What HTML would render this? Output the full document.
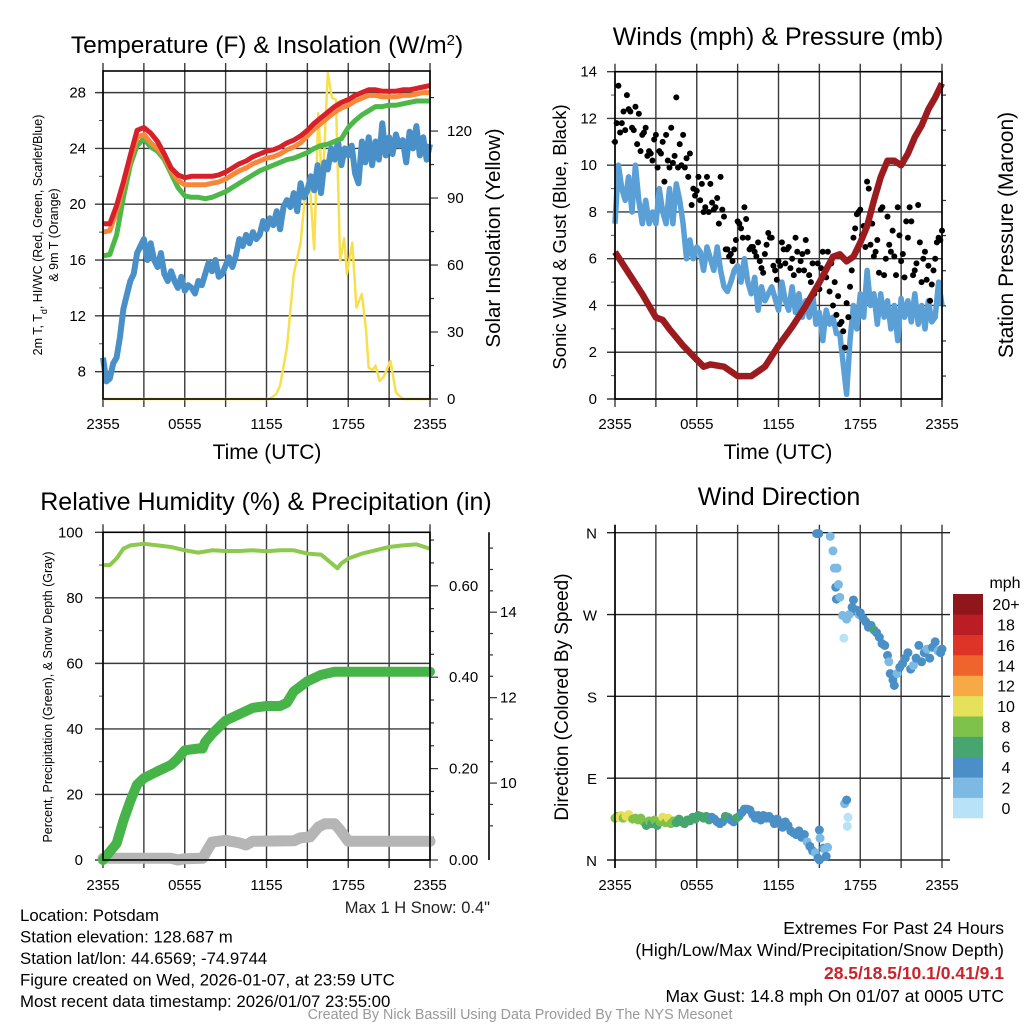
<!DOCTYPE html>
<html><head><meta charset="utf-8">
<style>
html,body{margin:0;padding:0;background:#fff;}
svg{display:block;font-family:"Liberation Sans",sans-serif;}
</style></head>
<body>
<svg id="fig" width="1024" height="1024" viewBox="0 0 1024 1024" xmlns="http://www.w3.org/2000/svg"></svg>
<script>
// ---------- DATA ----------
const hourLabels = ["2355","0555","1155","1755","2355"];
const tempRed = [18.6,18.6,19.9,21.6,23.5,25.3,25.5,25.1,24.5,23.6, 22.6,22.1,21.9,22.0,22.0,22.0,22.0,22.1,22.3,22.6, 22.9,23.1,23.4,23.6,23.8,23.9,24.1,24.4,24.6,24.9, 25.3,25.8,26.2,26.6,27.0,27.3,27.5,27.8,28.0,28.2, 28.2,28.1,28.1,28.1,28.2,28.2,28.3,28.4,28.5];
const tempOrange = [18.0,18.1,19.5,21.3,23.2,24.8,25.0,24.4,24.0,23.4, 22.4,21.7,21.4,21.4,21.4,21.4,21.5,21.6,21.8,22.1, 22.4,22.6,22.9,23.1,23.3,23.4,23.6,23.9,24.1,24.4, 24.9,25.4,25.8,26.2,26.6,26.9,27.1,27.4,27.6,27.8, 27.8,27.7,27.7,27.7,27.8,27.8,27.9,28.0,28.0];
const tempGreen = [16.3,16.4,17.8,20.5,22.8,24.2,24.7,24.1,23.8,23.2, 22.2,21.2,20.6,20.5,20.5,20.4,20.5,20.7,20.9,21.2, 21.5,21.8,22.1,22.4,22.6,22.8,23.0,23.2,23.3,23.5, 23.7,24.0,24.2,24.3,24.5,24.7,25.5,26.0,26.4,26.7, 27.0,27.0,27.1,27.1,27.2,27.3,27.4,27.4,27.4];
const tempBlue = [9.0,7.3,7.5,8.6,9.0,10.5,12.5,13.5,14.5,15.0, 16.5,17.0,17.5,16.0,17.2,16.0,15.5,16.5,15.0,14.5, 15.2,14.5,14.0,14.8,13.8,14.2,14.0,13.6,14.5,14.2, 15.0,15.8,15.2,16.0,14.8,15.0,15.6,16.2,15.5,16.3, 17.5,17.0,17.8,17.2,18.0,17.5,17.8,18.8,18.2,19.0, 18.5,19.5,18.2,19.8,20.3,19.8,20.8,19.5,21.5,20.5, 21.0,22.0,21.0,22.8,20.8,23.0,22.5,24.0,23.2,24.5, 22.8,24.0,23.5,24.2,22.2,21.5,24.5,23.0,24.8,22.8, 24.5,23.2,25.8,23.5,24.8,23.6,25.0,24.2,24.6,23.0, 25.2,24.0,25.6,23.5,24.8,23.2,24.3];
const solarTimes = [0,12.2,12.7,13.0,13.5,14.0,14.5,14.8,15.0,15.2,15.5,15.8,16.1,16.3,16.5,16.8,17.1,17.4,17.7,17.9,18.3,18.6,19.0,19.3,19.5,19.8,20.0,20.3,20.6,21.1,21.5,22.0,24];
const solarValues = [0,0,2,6,23,56,70,89,92,94,67,128,92,120,146,135,134,62,72,56,70,41,47,31,14,13,15,8,10,17,3,0,0];
const tempTicks = [8,12,16,20,24,28];
const solarTicks = [0,30,60,90,120];
const windSpeed = [7.5,10,9,8.5,9.5,8,10,8.5,7.5,8.5, 7.5,8,7.5,9,8,7.5,9,7.5,9.2,8.5, 7.5,6,6.8,6,6.5,6.3,5.5,6.5,6,5.5, 6.5,5.5,4.8,4.6,5,5.5,5.7,5,6,5, 4.5,5.2,3.8,4.8,4.2,4.5,4.8,4.3,3.8,5, 4.2,3.8,4.8,3.7,4.5,3.5,4.2,3.5,4.5,3.2, 3.7,2.5,3.8,3.2,3.5,2.8,2.8,1.5,0.2,2.5, 4,3,4.5,3.5,5.5,4,4.5,3.2,4.5,3.5, 4.2,3,4,2.5,4.3,3.5,4.2,3.3,4.5,3.2, 4,3,4.2,3.3,3.5,5,4];
const gustA = [11,13.4,11.8,11.5,12.4,11.6,12.5,12.2,11.3,11.6, 10.6,10.2,11.3,10.6,11.0,11.3,9.9,10.1,12.9,10.9, 11.3,10.3,10.5,9.0,8.9,8.5,8.0,9.5,9.2,8.1, 8.6,9.5,7.8,6.4,6.2,6.4,7.6,7.3,8.2,6.9, 6.5,6.3,6.7,5.6,6.2,7.1,6.9,5.5,5.9,6.7, 5.8,6.5,6.0,6.9,5.5,6.2,6.8,5.3,5.8,4.7, 4.7,6.3,5.2,4.6,4.0,3.6,3.2,2.9,4.1,4.8, 6.9,7.9,8.1,7.4,9.3,6.6,6.1,6.8,8.1,5.3, 7.8,6.3,6.1,8.2,5.9,5.2,6.9,7.6,5.5,8.3, 5.0,6.3,5.7,4.9,6.0,6.9,7.2];
const gustB = [11.8,11.4,12.3,13.0,12.3,11.5,10.9,10.6,11.4,10.4, 10.5,11.1,9.9,10.5,9.3,10.2,11.6,10.4,9.9,10.0, 9.9,9.5,8.3,8.7,9.5,9.2,8.2,8.0,8.4,8.2, 7.5,8.1,6.4,6.1,5.9,6.8,7.5,6.9,7.7,6.4, 6.5,6.1,5.9,5.4,6.6,6.9,5.7,5.1,5.7,6.4, 6.4,5.6,5.3,6.3,5.9,5.5,6.3,5.0,4.5,5.8, 5.6,5.3,6.3,5.8,5.0,4.4,3.3,2.2,3.5,5.5, 7.3,8.0,7.0,6.5,9.0,7.5,6.3,5.4,8.2,6.0, 6.6,7.2,5.3,7.0,6.2,7.6,8.2,5.3,5.8,6.7, 6.0,5.1,4.2,5.5,6.7,6.8];
const pressureTimes = [0,1,2,3,3.5,4,5,6,6.5,7,8,9,10,11,12,13,14,15,16,16.5,17,17.5,18,18.5,19,19.5,20,20.5,21,21.5,22,22.5,23,23.5,24];
const pressure = [991.3,990.4,989.5,988.5,988.4,988.0,987.3,986.7,986.4,986.5,986.4,986.0,986.0,986.4,987.3,988.1,989.0,990.0,991.1,991.2,990.9,991.1,991.7,992.4,993.5,994.5,995.2,995.2,995.0,995.5,996.2,996.7,997.4,997.9,998.5];
const windTicks = [0,2,4,6,8,10,12,14];
const pressTicks = [987,990,993,996,999];
const rhTimes = [0,0.5,1,1.5,2,3,4,5,6,7,8,9,10,11,12,13,14,15,16,16.5,17.2,17.5,18,19,20,21,22,23,24];
const rhValues = [90,90,92,95,96,96.5,96,95.5,94.5,93.8,94.5,94.3,94.3,94.5,94.2,94.5,94.5,93.5,93.2,91.5,89,90.5,92,93.5,94.5,95.5,96,96.3,95];
const precipTimes = [0,1,1.5,2,2.5,3,4,5,5.5,6,7,7.3,7.5,8,9,10,11,12,13,13.5,14,15,16,17,24];
const precipValues = [0,0.036,0.086,0.129,0.165,0.179,0.194,0.208,0.222,0.240,0.244,0.244,0.258,0.276,0.305,0.319,0.333,0.337,0.337,0.344,0.369,0.391,0.405,0.412,0.412];
const snowTimes = [0,5,5.5,6,7.3,8,9,10,10.5,11,14,14.5,15.2,15.8,16.3,17,17.4,18,24];
const snowValues = [8.24,8.24,8.2,8.23,8.24,8.62,8.66,8.6,8.55,8.64,8.65,8.72,8.74,8.97,9.05,9.05,8.9,8.64,8.64];
const pctTicks = [0,20,40,60,80,100];
const precipTicks = [0,0.2,0.4,0.6];
const snowTicks = [10,12,14];
const dirTimes = [0,0.15,0.3,0.45,0.6,0.8,1.0,1.1,1.3,1.5,1.7,1.9,2.1,2.3,2.5,2.7,2.9,3.1,3.3,3.5,3.7,3.9,4.1,4.3,4.5,4.7,4.9,5.1,5.3,5.5,5.7,5.9,6.1,6.3,6.5,6.7,6.9,7.1,7.3,7.5,7.7,7.9,8.1,8.3,8.5,8.7,8.9,9.1,9.3,9.5,9.7,9.9,10.1,10.3,10.5,10.7,10.9,11.1,11.3,11.5,11.7,11.9,12.1,12.3,12.5,12.7,12.9,13.1,13.3,13.5,13.7,13.9,14.1,14.3,14.5,14.7,14.9,15.0,15.0,15.05,15.3,15.4,15.5,15.6, 14.8,14.95,15.8,16.0,16.1,16.3,16.2,16.4,16.25,16.5,16.7,16.8,17.0,17.2,17.4,17.5,17.7,17.9,18.0,18.2,18.4,18.6,18.8,19.0,19.2,19.4,19.6,19.8,20.0,20.1,20.2,20.4,20.5,20.7,20.9,21.1,21.3,21.5,21.7,21.9,22.1,22.3,22.5,22.7,22.9,23.1,23.3,23.5,23.7,23.9,24, 16.85,17.0,17.1,17.05];
const dirDegrees = [46,48,47,49,46,48,50,47,45,46,44,46,42,38,43,40,44,38,42,47,41,46,40,43,41,45,42,40,44,43,47,45,49,48,46,48,44,47,45,42,40,42,48,47,44,42,46,48,52,56,56,55,50,46,49,44,49,46,48,45,40,45,40,36,42,38,32,30,28,32,25,28,20,15,10,8,2,0,33,24,13,12,4,14, 359,359,356,340,321,321,300,303,287,289,269,244,265,270,278,286,275,270,272,266,262,256,258,253,250,245,238,236,225,218,205,198,192,205,212,216,222,228,210,214,222,236,218,228,232,222,234,240,230,228,232, 62,66,47,37];
const dirSpeeds = [8,9,10,10,9,10,10,10,8,8,8,8,8,7,8,7,8,7,8,10,8,10,8,8,7,7,6,6,6,6,6,6,6,6,6,6,6,5,4,4,4,4,6,6,4,4,7,6,4,4,4,4,4,4,4,4,4,4,4,4,4,4,4,4,4,4,4,4,4,4,4,4,3,4,4,3,4,4,4,3,4,3,4,3, 4,4,3,3,3,3,4,3,4,3,3,1,3,3,4,4,4,3,4,4,4,4,4,7,4,4,4,4,4,3,4,4,4,3,4,4,4,4,4,3,4,4,4,4,3,4,4,4,3,4,4, 2,4,1,1];
const speedLabels = ["0","2","4","6","8","10","12","14","16","18","20+"];
const speedColors = ["#b7e2f8","#7cb9e3","#4a8fc6","#47a56f","#7ec24b","#e6e15a","#f6a945","#ef642d","#de3427","#bb1d24","#8f161a"];
const dirLabels = ["N","E","S","W","N"];
const dirTicks = [0,90,180,270,360];

// ---------- HELPERS ----------
const NS = "http://www.w3.org/2000/svg";
const svg = document.getElementById("fig");
function el(tag, attrs, name, parent) {
  const e = document.createElementNS(NS, tag);
  for (const k in attrs) e.setAttribute(k, attrs[k]);
  
  
  (parent || svg).appendChild(e);
  return e;
}
function txt(x, y, s, size, anchor, name, extra) {
  const a = Object.assign({x: x, y: y, "font-size": size, "text-anchor": anchor || "middle", fill: "#000"}, extra || {});
  const t = el("text", a, name);
  t.textContent = s;
  return t;
}
function vtxt(x, y, s, size, name) {
  const t = el("text", {x: 0, y: 0, "font-size": size, "text-anchor": "middle", transform: "translate(" + x + "," + y + ") rotate(-90)", fill: "#000"}, name);
  t.textContent = s;
  return t;
}
function span(parent, s, name, attrs) {
  const sp = document.createElementNS(NS, "tspan");
  for (const k in (attrs || {})) sp.setAttribute(k, attrs[k]);
  sp.textContent = s;
  
  
  parent.appendChild(sp);
  return sp;
}
function linear(d0, d1, r0, r1) { return v => r0 + (v - d0) * (r1 - r0) / (d1 - d0); }
function pathFrom(xs, ys, fx, fy) {
  let d = "";
  for (let i = 0; i < xs.length; i++) d += (i ? "L" : "M") + fx(xs[i]).toFixed(1) + "," + fy(ys[i]).toFixed(1);
  return d;
}
function steps(n, dt) { const a = []; for (let i = 0; i < n; i++) a.push(i * dt); return a; }

function frame(p, name) {
  const g = el("g", {}, name + "-grid");
  const fx = linear(0, 24, p.x0, p.x1);
  for (let h = 0; h <= 24; h += 3) {
    const x = fx(h);
    el("line", {x1: x, x2: x, y1: p.y0 - 8, y2: p.y1 + 8, stroke: "#3a3a3a", "stroke-width": 1.4}, "vertical-gridline", g);
  }
  for (let i = 0; i < hourLabels.length; i++) {
    txt(fx(i * 6), p.labY, hourLabels[i], 15, "middle", "x-tick-label");
  }
  return fx;
}
function border(p, name) {
  el("rect", {x: p.x0, y: p.y0, width: p.x1 - p.x0, height: p.y1 - p.y0, fill: "none", stroke: "#000", "stroke-width": 1.6}, name);
}

// ---------- PANEL 1: Temperature ----------
(function () {
  const p = {x0: 103, x1: 430, y0: 71, y1: 399, labY: 429};
  const fx = frame(p, "temp");
  const fy = linear(6.04, 29.55, p.y1, p.y0);
  const fs = linear(0, 146.9, p.y1, p.y0);
  for (let v = 7; v <= 29; v += 1) {
    const y = fy(v);
    if (tempTicks.indexOf(v) >= 0) {
      el("line", {x1: p.x0 - 8, x2: p.x1, y1: y, y2: y, stroke: "#3a3a3a", "stroke-width": 1.4}, "horizontal-gridline");
      txt(p.x0 - 17, y + 5, String(v), 15, "end", "temp-tick-label");
    } else if (v % 2 === 0) {
      el("line", {x1: p.x0 - 4, x2: p.x0, y1: y, y2: y, stroke: "#555", "stroke-width": 1}, "temp-minor-tick");
    }
  }
  for (let v = 0; v <= 140; v += 15) {
    const y = fs(v);
    const major = solarTicks.indexOf(v) >= 0;
    el("line", {x1: p.x1, x2: p.x1 + (major ? 8 : 4), y1: y, y2: y, stroke: "#333", "stroke-width": 1.2}, "solar-tick");
    if (major) txt(p.x1 + 17, y + 5, String(v), 15, "start", "solar-tick-label");
  }
  const tq = steps(97, 0.25), th = steps(49, 0.5);
  el("path", {d: pathFrom(solarTimes, solarValues, fx, fs), fill: "none", stroke: "#f6e04e", "stroke-width": 2.5, "stroke-linejoin": "round"}, "solar-insolation-line");
  el("path", {d: pathFrom(tq, tempBlue, fx, fy), fill: "none", stroke: "#4a90c8", "stroke-width": 6, "stroke-linejoin": "round"}, "dewpoint-line");
  el("path", {d: pathFrom(th, tempGreen, fx, fy), fill: "none", stroke: "#4db848", "stroke-width": 5, "stroke-linejoin": "round"}, "green-temp-line");
  el("path", {d: pathFrom(th, tempOrange, fx, fy), fill: "none", stroke: "#f5883a", "stroke-width": 5, "stroke-linejoin": "round"}, "orange-9m-temp-line");
  el("path", {d: pathFrom(th, tempRed, fx, fy), fill: "none", stroke: "#d7202a", "stroke-width": 5, "stroke-linejoin": "round"}, "red-2m-temp-line");
  border(p, "temp-plot-frame");
  const t = txt(267, 53, "Temperature (F) & Insolation (W/m", 24.5, "middle", "temp-panel-title");
  span(t, "2", "superscript-2", {"baseline-shift": "super", "font-size": "15"});
  span(t, ")", "title-close-paren");
  txt(267, 459, "Time (UTC)", 21, "middle", "temp-x-axis-title");
  const yt = vtxt(42, 235, "2m T, T", 12.5, "temp-y-axis-title-line1");
  span(yt, "d", "subscript-d", {"baseline-shift": "sub", "font-size": "9"});
  span(yt, ", HI/WC (Red, Green, Scarlet/Blue)", "y-title-rest");
  vtxt(58, 235, "& 9m T (Orange)", 12.5, "temp-y-axis-title-line2");
  vtxt(500, 238, "Solar Insolation (Yellow)", 20.5, "solar-y-axis-title");
})();

// ---------- PANEL 2: Winds ----------
(function () {
  const p = {x0: 615, x1: 942, y0: 71.7, y1: 399, labY: 429};
  const fx = frame(p, "winds");
  const fy = linear(0, 14, p.y1, p.y0);
  const fp = linear(985.02, 999, p.y1, p.y0);
  for (let v = 0; v <= 14; v += 1) {
    const y = fy(v);
    if (windTicks.indexOf(v) >= 0) {
      el("line", {x1: p.x0 - 8, x2: p.x1, y1: y, y2: y, stroke: "#3a3a3a", "stroke-width": 1.4}, "horizontal-gridline");
      txt(p.x0 - 18, y + 5, String(v), 15, "end", "wind-tick-label");
    } else {
      el("line", {x1: p.x0 - 4, x2: p.x0, y1: y, y2: y, stroke: "#555", "stroke-width": 1}, "wind-minor-tick");
    }
  }
  for (let v = 986; v <= 999; v += 1.5) {
    const y = fp(v);
    const major = pressTicks.indexOf(v) >= 0;
    el("line", {x1: p.x1, x2: p.x1 + (major ? 8 : 4), y1: y, y2: y, stroke: "#333", "stroke-width": 1.2}, "pressure-tick");
    if (major) txt(p.x1 + 17, y + 5, String(v), 15, "start", "pressure-tick-label");
  }
  const tq = steps(97, 0.25);
  el("path", {d: pathFrom(tq, windSpeed, fx, fy), fill: "none", stroke: "#5a9fd6", "stroke-width": 5.5, "stroke-linejoin": "round"}, "sonic-wind-line");
  const gA = el("g", {}, "gust-dots");
  for (let i = 0; i < gustA.length; i++) {
    el("circle", {cx: fx(i * 0.25), cy: fy(gustA[i]), r: 3, fill: "#000"}, "gust-dot", gA);
  }
  for (let i = 0; i < gustB.length; i++) {
    el("circle", {cx: fx(0.125 + i * 0.25), cy: fy(gustB[i]), r: 3, fill: "#000"}, "gust-dot", gA);
  }
  el("path", {d: pathFrom(pressureTimes, pressure, fx, fp), fill: "none", stroke: "#9b1b1e", "stroke-width": 6.5, "stroke-linejoin": "round"}, "station-pressure-line");
  border(p, "winds-plot-frame");
  txt(778, 45, "Winds (mph) & Pressure (mb)", 25, "middle", "winds-panel-title");
  txt(778, 459, "Time (UTC)", 21, "middle", "winds-x-axis-title");
  vtxt(566, 237, "Sonic Wind & Gust (Blue, Black)", 18.5, "wind-y-axis-title");
  vtxt(1013, 235, "Station Pressure (Maroon)", 21, "pressure-y-axis-title");
})();

// ---------- PANEL 3: RH & Precip ----------
(function () {
  const p = {x0: 103, x1: 430, y0: 532.3, y1: 860, labY: 890};
  const fx = frame(p, "rh");
  const fy = linear(0, 100, p.y1, p.y0);
  const fpr = linear(0, 0.717, p.y1, p.y0);
  const fsn = linear(8.2, 15.87, p.y1, p.y0);
  for (let v = 0; v <= 100; v += 10) {
    const y = fy(v);
    if (pctTicks.indexOf(v) >= 0) {
      el("line", {x1: p.x0 - 8, x2: p.x1, y1: y, y2: y, stroke: "#3a3a3a", "stroke-width": 1.4}, "horizontal-gridline");
      txt(p.x0 - 20, y + 5, String(v), 15, "end", "percent-tick-label");
    } else {
      el("line", {x1: p.x0 - 4, x2: p.x0, y1: y, y2: y, stroke: "#555", "stroke-width": 1}, "percent-minor-tick");
    }
  }
  for (let v = 0; v <= 0.71; v += 0.05) {
    const y = fpr(v);
    const major = Math.abs(v * 20 - Math.round(v * 5) * 4) < 0.01;
    el("line", {x1: p.x1, x2: p.x1 + (major ? 8 : 4), y1: y, y2: y, stroke: "#333", "stroke-width": 1.2}, "precip-tick");
  }
  for (let i = 0; i < precipTicks.length; i++) txt(p.x1 + 19, fpr(precipTicks[i]) + 5, precipTicks[i].toFixed(2), 15, "start", "precip-tick-label");
  el("line", {x1: 489, x2: 489, y1: p.y0, y2: p.y1, stroke: "#000", "stroke-width": 1.6}, "snow-axis-line");
  for (let v = 9; v <= 15.5; v += 0.5) {
    const y = fsn(v);
    const major = snowTicks.indexOf(v) >= 0;
    el("line", {x1: 489, x2: 489 + (major ? 8 : 4), y1: y, y2: y, stroke: "#333", "stroke-width": 1.2}, "snow-tick");
  }
  for (let i = 0; i < snowTicks.length; i++) txt(500, fsn(snowTicks[i]) + 5, String(snowTicks[i]), 15, "start", "snow-tick-label");
  el("path", {d: pathFrom(snowTimes, snowValues, fx, fsn), fill: "none", stroke: "#b5b5b5", "stroke-width": 11, "stroke-linejoin": "round", "stroke-linecap": "round"}, "snow-depth-line");
  el("path", {d: pathFrom(precipTimes, precipValues, fx, fpr), fill: "none", stroke: "#46b449", "stroke-width": 10, "stroke-linejoin": "round", "stroke-linecap": "round"}, "precipitation-line");
  el("path", {d: pathFrom(rhTimes, rhValues, fx, fy), fill: "none", stroke: "#8dc94e", "stroke-width": 4, "stroke-linejoin": "round"}, "relative-humidity-line");
  border(p, "rh-plot-frame");
  txt(266, 510, "Relative Humidity (%) & Precipitation (in)", 25, "middle", "rh-panel-title");
  vtxt(52, 697, "Percent, Precipitation (Green), & Snow Depth (Gray)", 12.5, "rh-y-axis-title");
  txt(490, 913, "Max 1 H Snow: 0.4\"", 16.5, "end", "max-snow-note", {fill: "#222"});
})();

// ---------- PANEL 4: Wind Direction ----------
(function () {
  const p = {x0: 615, x1: 942, y0: 532.7, y1: 860, labY: 890};
  const fx = frame(p, "dir");
  const fy = linear(0, 360, p.y1, p.y0);
  for (let i = 0; i < dirTicks.length; i++) {
    const y = fy(dirTicks[i]);
    el("line", {x1: p.x0 - 8, x2: p.x1 + 8, y1: y, y2: y, stroke: "#222", "stroke-width": 1.4}, "horizontal-gridline");
    txt(p.x0 - 18, y + 6, dirLabels[i], 15, "end", "direction-tick-label");
  }
  const g = el("g", {}, "direction-dots");
  for (let i = 0; i < dirTimes.length; i++) {
    const ci = Math.min(10, Math.floor(dirSpeeds[i] / 2));
    el("circle", {cx: fx(dirTimes[i]), cy: fy(dirDegrees[i]), r: 4.5, fill: speedColors[ci]}, "direction-dot", g);
  }
  el("line", {x1: p.x0, x2: p.x0, y1: p.y0 - 8, y2: p.y1 + 8, stroke: "#000", "stroke-width": 1.6}, "dir-left-axis");
  const cb = el("g", {}, "speed-colorbar");
  const segH = (818 - 594) / speedColors.length;
  for (let i = 0; i < speedColors.length; i++) {
    const y = 818 - (i + 1) * segH;
    el("rect", {x: 953, y: y, width: 30, height: segH + 0.3, fill: speedColors[i]}, "colorbar-swatch", cb);
    txt(1006, y + segH / 2 + 6, speedLabels[i], 16, "middle", "colorbar-label");
  }
  txt(1005, 588, "mph", 16, "middle", "colorbar-units");
  txt(779, 505, "Wind Direction", 25, "middle", "direction-panel-title");
  vtxt(568, 697, "Direction (Colored By Speed)", 19, "direction-y-axis-title");
})();

// ---------- FOOTER TEXT ----------
const leftInfo = ["Location: Potsdam","Station elevation: 128.687 m","Station lat/lon: 44.6569; -74.9744","Figure created on Wed, 2026-01-07, at 23:59 UTC","Most recent data timestamp: 2026/01/07 23:55:00"];
for (let i = 0; i < leftInfo.length; i++) txt(20, 921 + i * 21.5, leftInfo[i], 16.8, "start", "station-info-line");
txt(1004, 934, "Extremes For Past 24 Hours", 17.5, "end", "extremes-heading");
txt(1004, 956, "(High/Low/Max Wind/Precipitation/Snow Depth)", 17.5, "end", "extremes-legend");
txt(1004, 979, "28.5/18.5/10.1/0.41/9.1", 17.5, "end", "extremes-values", {fill: "#cc2229", "font-weight": "bold"});
txt(1004, 1002, "Max Gust: 14.8 mph On 01/07 at 0005 UTC", 17.5, "end", "max-gust-note");
txt(520, 1019, "Created By Nick Bassill Using Data Provided By The NYS Mesonet", 14.3, "middle", "credit-line", {fill: "#999"});
</script>
</body></html>
